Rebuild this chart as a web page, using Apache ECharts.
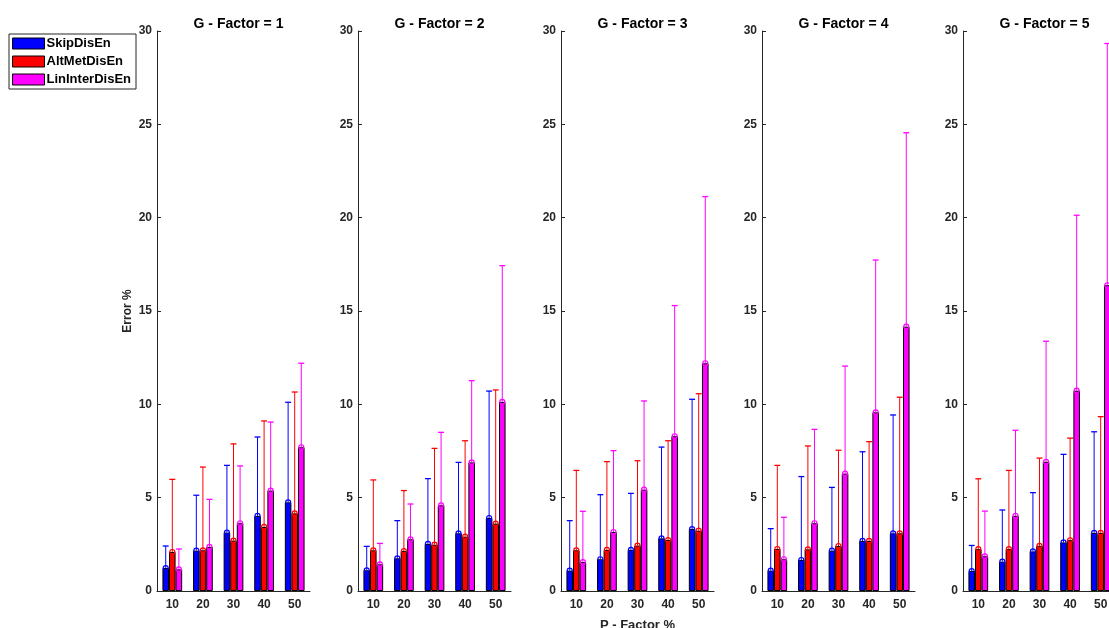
<!DOCTYPE html>
<html>
<head>
<meta charset="utf-8">
<script src="https://cdn.jsdelivr.net/npm/echarts@6/dist/echarts.min.js"></script>
<style>html,body{margin:0;padding:0;background:#fff}#c{width:1109px;height:628px}</style>
</head>
<body>
<div id="c"></div>
<script>
const categories = ['10', '20', '30', '40', '50'];
const panelTitles = ['G - Factor = 1', 'G - Factor = 2', 'G - Factor = 3', 'G - Factor = 4', 'G - Factor = 5'];
const seriesNames = ['SkipDisEn', 'AltMetDisEn', 'LinInterDisEn'];
const yTicks = [0, 5, 10, 15, 20, 25, 30];

// mean values (bar heights), one row per G-Factor panel
const skipMean = [
  [1.23, 2.16, 3.13, 4.02, 4.75],
  [1.11, 1.75, 2.52, 3.09, 3.91],
  [1.09, 1.70, 2.20, 2.82, 3.32],
  [1.09, 1.66, 2.16, 2.68, 3.09],
  [1.07, 1.57, 2.12, 2.60, 3.11]
];
const altMean = [
  [2.09, 2.18, 2.70, 3.43, 4.16],
  [2.18, 2.14, 2.48, 2.91, 3.61],
  [2.18, 2.20, 2.43, 2.73, 3.23],
  [2.25, 2.23, 2.41, 2.68, 3.09],
  [2.24, 2.24, 2.42, 2.72, 3.11]
];
const linMean = [
  [1.16, 2.36, 3.63, 5.38, 7.70],
  [1.43, 2.77, 4.59, 6.89, 10.13],
  [1.55, 3.16, 5.43, 8.29, 12.20],
  [1.70, 3.63, 6.29, 9.57, 14.16],
  [1.86, 4.03, 6.92, 10.73, 16.38]
];
// upper end of error bars
const skipUpper = [
  [2.41, 5.13, 6.73, 8.25, 10.11],
  [2.39, 3.77, 6.02, 6.89, 10.71],
  [3.77, 5.16, 5.23, 7.71, 10.27],
  [3.34, 6.13, 5.55, 7.46, 9.43],
  [2.44, 4.34, 5.27, 7.32, 8.53]
];
const altUpper = [
  [5.98, 6.64, 7.88, 9.11, 10.66],
  [5.95, 5.38, 7.64, 8.05, 10.77],
  [6.46, 6.93, 6.98, 8.05, 10.57],
  [6.73, 7.77, 7.54, 8.00, 10.38],
  [6.01, 6.46, 7.12, 8.19, 9.34]
];
const linUpper = [
  [2.25, 4.91, 6.70, 9.05, 12.20],
  [2.55, 4.66, 8.50, 11.27, 17.43],
  [4.27, 7.52, 10.18, 15.29, 21.13],
  [3.95, 8.66, 12.05, 17.73, 24.55],
  [4.28, 8.61, 13.38, 20.13, 29.33]
];

const colors = ['#0000ff', '#ff0000', '#ff00ff'];
const means = [skipMean, altMean, linMean];
const uppers = [skipUpper, altUpper, linUpper];

const FONT = "'Liberation Sans', Arial, Helvetica, sans-serif";
const TXT = '#262626';
const gridLeft = [157, 358, 561, 762, 963];
const gridW = 153;
const BARFRAC = 0.215;

const grids = [], xAxes = [], yAxes = [], titles = [], barSeries = [], errSeries = [];
for (let p = 0; p < 5; p++) {
  grids.push({ left: gridLeft[p], top: 31, width: gridW, height: 560, containLabel: false, outerBoundsMode: 'none' });
  titles.push({
    text: panelTitles[p], left: gridLeft[p] + gridW / 2, top: 12, textAlign: 'center',
    textStyle: { fontFamily: FONT, fontSize: 14, fontWeight: 'bold', color: '#000' }
  });
  xAxes.push({
    type: 'category', gridIndex: p, data: categories, boundaryGap: true,
    axisLine: { show: true, lineStyle: { color: TXT, width: 1 } },
    axisTick: { show: true, inside: true, alignWithLabel: true, length: 4, lineStyle: { color: TXT } },
    axisLabel: { fontFamily: FONT, fontSize: 12, fontWeight: 'bold', color: TXT, margin: 8 },
    name: p === 2 ? 'P - Factor %' : '', nameLocation: 'middle', nameGap: 28,
    nameTextStyle: { fontFamily: FONT, fontSize: 13, fontWeight: 'bold', color: TXT }
  });
  yAxes.push({
    type: 'value', gridIndex: p, min: 0, max: 30, interval: 5,
    axisLine: { show: true, lineStyle: { color: TXT, width: 1 } },
    axisTick: { show: true, inside: true, length: 4, lineStyle: { color: TXT } },
    axisLabel: { fontFamily: FONT, fontSize: 12, fontWeight: 'bold', color: TXT, margin: 5,
      formatter: v => (yTicks.indexOf(v) >= 0 ? String(v) : '') },
    splitLine: { show: false },
    name: p === 0 ? 'Error %' : '', nameLocation: 'middle', nameGap: 23,
    nameTextStyle: { fontFamily: FONT, fontSize: 12, fontWeight: 'bold', color: TXT }
  });
  for (let s = 0; s < 3; s++) {
    barSeries.push({
      type: 'bar', name: seriesNames[s], xAxisIndex: p, yAxisIndex: p,
      data: means[s][p], barWidth: (BARFRAC * 100) + '%', barGap: '0%',
      itemStyle: { color: colors[s], borderColor: '#000', borderWidth: 1 },
      emphasis: { disabled: true }, animation: false
    });
    const offset = s - 1;
    const col = colors[s];
    errSeries.push({
      type: 'custom', name: seriesNames[s], xAxisIndex: p, yAxisIndex: p,
      data: categories.map((c, i) => [i, means[s][p][i], uppers[s][p][i]]),
      encode: { x: 0, y: [1, 2] }, animation: false, z: 5, clip: false,
      renderItem: function (params, api) {
        const i = api.value(0), m = api.value(1), u = api.value(2);
        const p0 = api.coord([i, m]);
        const p1 = api.coord([i, u]);
        const band = api.size([1, 0])[0];
        const bw = band * BARFRAC;
        const cx = p0[0] + offset * bw;
        const half = bw * 0.45;
        return {
          type: 'group', children: [
            { type: 'line', shape: { x1: cx, y1: p0[1], x2: cx, y2: p1[1] }, style: { stroke: col, lineWidth: 1 } },
            { type: 'line', shape: { x1: cx - half, y1: p1[1], x2: cx + half, y2: p1[1] }, style: { stroke: col, lineWidth: 1.3 } },
            { type: 'circle', shape: { cx: cx, cy: p0[1], r: 2.5 }, style: { stroke: col, fill: 'none', lineWidth: 1.2 } }
          ]
        };
      }
    });
  }
}

const chart = echarts.init(document.getElementById('c'), null, { renderer: 'canvas' });
chart.setOption({
  animation: false,
  backgroundColor: '#fff',
  title: titles,
  legend: {
    data: seriesNames.map(n => ({ name: n, icon: 'rect' })),
    orient: 'vertical', left: 9, top: 34,
    backgroundColor: '#fff', borderColor: TXT, borderWidth: 1, borderRadius: 0,
    padding: [3, 5, 3, 3], itemGap: 5, itemWidth: 32, itemHeight: 11,
    textStyle: { fontFamily: FONT, fontSize: 13, fontWeight: 'bold', color: '#000', padding: [0, 0, 0, -3] },
    itemStyle: { borderColor: '#000', borderWidth: 1 }
  },
  grid: grids,
  xAxis: xAxes,
  yAxis: yAxes,
  series: barSeries.concat(errSeries)
});
</script>
</body>
</html>
